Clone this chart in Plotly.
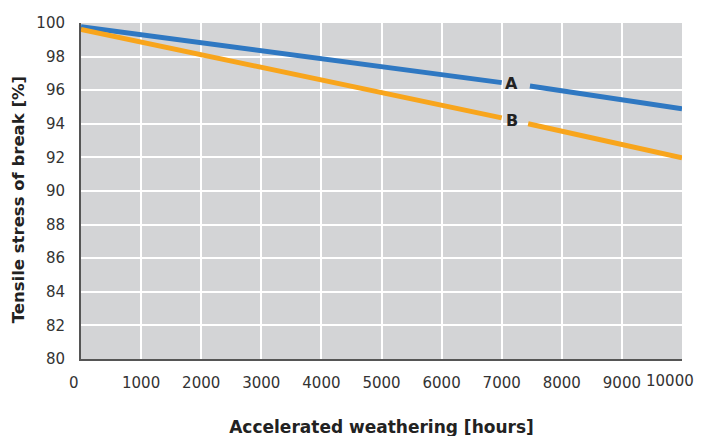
import plotly.graph_objects as go

x_a = [0, 7000, None, 7470, 10000]
y_a = [99.78, 96.45, None, 96.25, 94.9]
x_b = [0, 7000, None, 7440, 10000]
y_b = [99.62, 94.35, None, 94.0, 91.98]
labels = ["A", "B"]
label_x = [7170, 7170]
label_y = [96.4, 94.2]
x_ticks = [0, 1000, 2000, 3000, 4000, 5000, 6000, 7000, 8000, 9000]
x_tick_text = ["0\u00a0\u00a0\u00a0", "1000", "2000", "3000", "4000", "5000", "6000",
               "7000", "8000", "9000"]
x_last_tick = 10000
y_ticks = [80, 82, 84, 86, 88, 90, 92, 94, 96, 98, 100]

font = "'DejaVu Sans', sans-serif"

fig = go.Figure()
fig.add_trace(go.Scatter(x=x_a, y=y_a, mode="lines", line=dict(color="#2f78c2", width=5),
                         connectgaps=False, showlegend=False, hoverinfo="skip"))
fig.add_trace(go.Scatter(x=x_b, y=y_b, mode="lines", line=dict(color="#f8a51c", width=5),
                         connectgaps=False, showlegend=False, hoverinfo="skip"))
for t, lx, ly in zip(labels, label_x, label_y):
    fig.add_annotation(x=lx, y=ly, text="<b>" + t + "</b>", showarrow=False,
                       font=dict(family=font, size=16, color="#222"))

# last x tick label placed slightly inward, as in the reference
fig.add_annotation(x=x_last_tick, xref="x", y=0, yref="paper", text=str(x_last_tick),
                   showarrow=False, xanchor="center", yanchor="middle",
                   xshift=-12, yshift=-22, font=dict(family=font, size=15, color="#333"))

fig.update_layout(
    width=705, height=436,
    margin=dict(l=73, r=31, t=15, b=85),
    paper_bgcolor="white", plot_bgcolor="#d3d4d6",
    font=dict(family=font, size=15, color="#333"),
)
fig.update_xaxes(range=[0, 10000], tickvals=x_ticks, ticktext=x_tick_text,
                 showgrid=True, gridcolor="white", gridwidth=1.5,
                 showline=True, linecolor="#555", linewidth=2,
                 ticks="outside", ticklen=9, tickcolor="rgba(0,0,0,0)",
                 zeroline=False, automargin=False,
                 title=dict(text="<b>Accelerated weathering [hours]</b>", font=dict(size=17, color="#222"), standoff=30))
fig.update_yaxes(range=[80, 100], tickvals=y_ticks,
                 showgrid=True, gridcolor="white", gridwidth=1.5,
                 showline=True, linecolor="#555", linewidth=2,
                 ticks="outside", ticklen=11, tickcolor="rgba(0,0,0,0)",
                 zeroline=False, automargin=False,
                 title=dict(text="<b>Tensile stress of break [%]\u00a0\u00a0\u00a0</b>",
                            font=dict(size=16.5, color="#222"), standoff=8))

fig.write_html("out.html")
